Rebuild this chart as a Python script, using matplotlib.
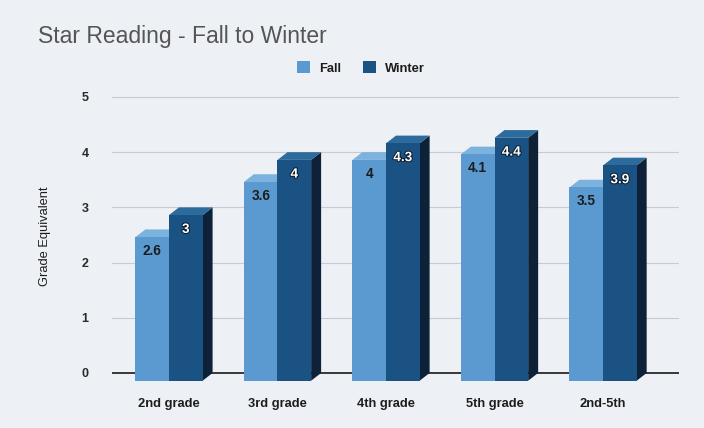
import matplotlib
matplotlib.use("Agg")
import matplotlib.pyplot as plt
from matplotlib.patches import Polygon, Patch
import matplotlib.patheffects as pe

plt.rcParams['font.family'] = ['Liberation Sans', 'DejaVu Sans']

categories = ["2nd grade", "3rd grade", "4th grade", "5th grade", "2nd-5th"]
fall = [2.6, 3.6, 4.0, 4.1, 3.5]
winter = [3.0, 4.0, 4.3, 4.4, 3.9]
fall_labels = ["2.6", "3.6", "4", "4.1", "3.5"]
winter_labels = ["3", "4", "4.3", "4.4", "3.9"]
yticks = [0, 1, 2, 3, 4, 5]

BG = "#edf0f4"
FALL_FRONT, FALL_TOP, FALL_SIDE = "#5a9ad1", "#7cb2de", "#2f5f88"
WIN_FRONT, WIN_TOP, WIN_SIDE = "#1a5284", "#2d6b9c", "#0d2238"

fig = plt.figure(figsize=(7.04, 4.28), dpi=100, facecolor=BG)
ax = fig.add_axes([112/704, 0.1002, 567/704, 0.690])
ax.set_facecolor(BG)
ax.set_xlim(-0.525, 4.70)
ax.set_ylim(-0.22, 5.13)

w = 0.31      # bar front width (x units)
dx = 0.092    # depth in x
dy = 0.14     # depth in y

for t in yticks[1:]:
    ax.axhline(t, color="#c6cad4", lw=0.8, zorder=1)
ax.axhline(0, color="#2a2a2a", lw=1.3, zorder=1)

xs = list(range(len(categories)))

def draw_series(values, offset, front, top, side, zbase):
    lefts = [x + offset for x in xs]
    for x0, v in zip(lefts, values):
        x1 = x0 + w
        ax.add_patch(Polygon([(x1, -dy), (x1, v - dy), (x1 + dx, v), (x1 + dx, 0)],
                             closed=True, facecolor=side, edgecolor="none", zorder=zbase))
        ax.add_patch(Polygon([(x0, v - dy), (x1, v - dy), (x1 + dx, v), (x0 + dx, v)],
                             closed=True, facecolor=top, edgecolor="none", zorder=zbase))
    ax.bar(lefts, values, width=w, bottom=-dy, align="edge", color=front,
           edgecolor="none", zorder=zbase + 0.5)
    return lefts

fl = draw_series(fall, -w, FALL_FRONT, FALL_TOP, FALL_SIDE, 2)
wl = draw_series(winter, 0.0, WIN_FRONT, WIN_TOP, WIN_SIDE, 3)

for x0, v, s in zip(fl, fall, fall_labels):
    ax.text(x0 + w / 2, v - dy - 0.25, s, ha="center", va="center", fontsize=9.8,
            fontweight="bold", color="#1c1c1c", zorder=5)
for x0, v, s in zip(wl, winter, winter_labels):
    ax.text(x0 + w / 2, v - dy - 0.25, s, ha="center", va="center", fontsize=9.8,
            fontweight="bold", color="white", zorder=5,
            path_effects=[pe.withStroke(linewidth=1.4, foreground="#0a1a2a")])

ax.set_xticks(xs)
ax.set_xticklabels(categories, fontsize=9.3, fontweight="bold", color="#1c1c1c")
ax.set_yticks(yticks)
ax.set_yticklabels([str(t) for t in yticks], fontsize=9, fontweight="bold", color="#2a2a2a")
ax.tick_params(axis="x", length=0, pad=9)
ax.tick_params(axis="y", length=0, pad=17)
for sp in ax.spines.values():
    sp.set_visible(False)

fig.text(38/704, 1 - 36/428, "Star Reading - Fall to Winter", fontsize=16.5,
         color="#555555", ha="left", va="center")
fig.text(45/704, 1 - 236/428, "Grade Equivalent", rotation=90, fontsize=9.3,
         color="#1c1c1c", ha="center", va="center")

handles = [Patch(facecolor=FALL_FRONT, edgecolor="none", label="Fall"),
           Patch(facecolor=WIN_FRONT, edgecolor="none", label="Winter")]
leg = fig.legend(handles=handles, loc="center", bbox_to_anchor=(361/704, 1 - 68/428),
                 ncol=2, frameon=False, handlelength=1.0, handleheight=1.0,
                 handletextpad=0.7, columnspacing=1.7,
                 prop={"size": 9.3, "weight": "bold"})
for t in leg.get_texts():
    t.set_color("#1c1c1c")

fig.savefig("out.png", dpi=100, facecolor=BG)
